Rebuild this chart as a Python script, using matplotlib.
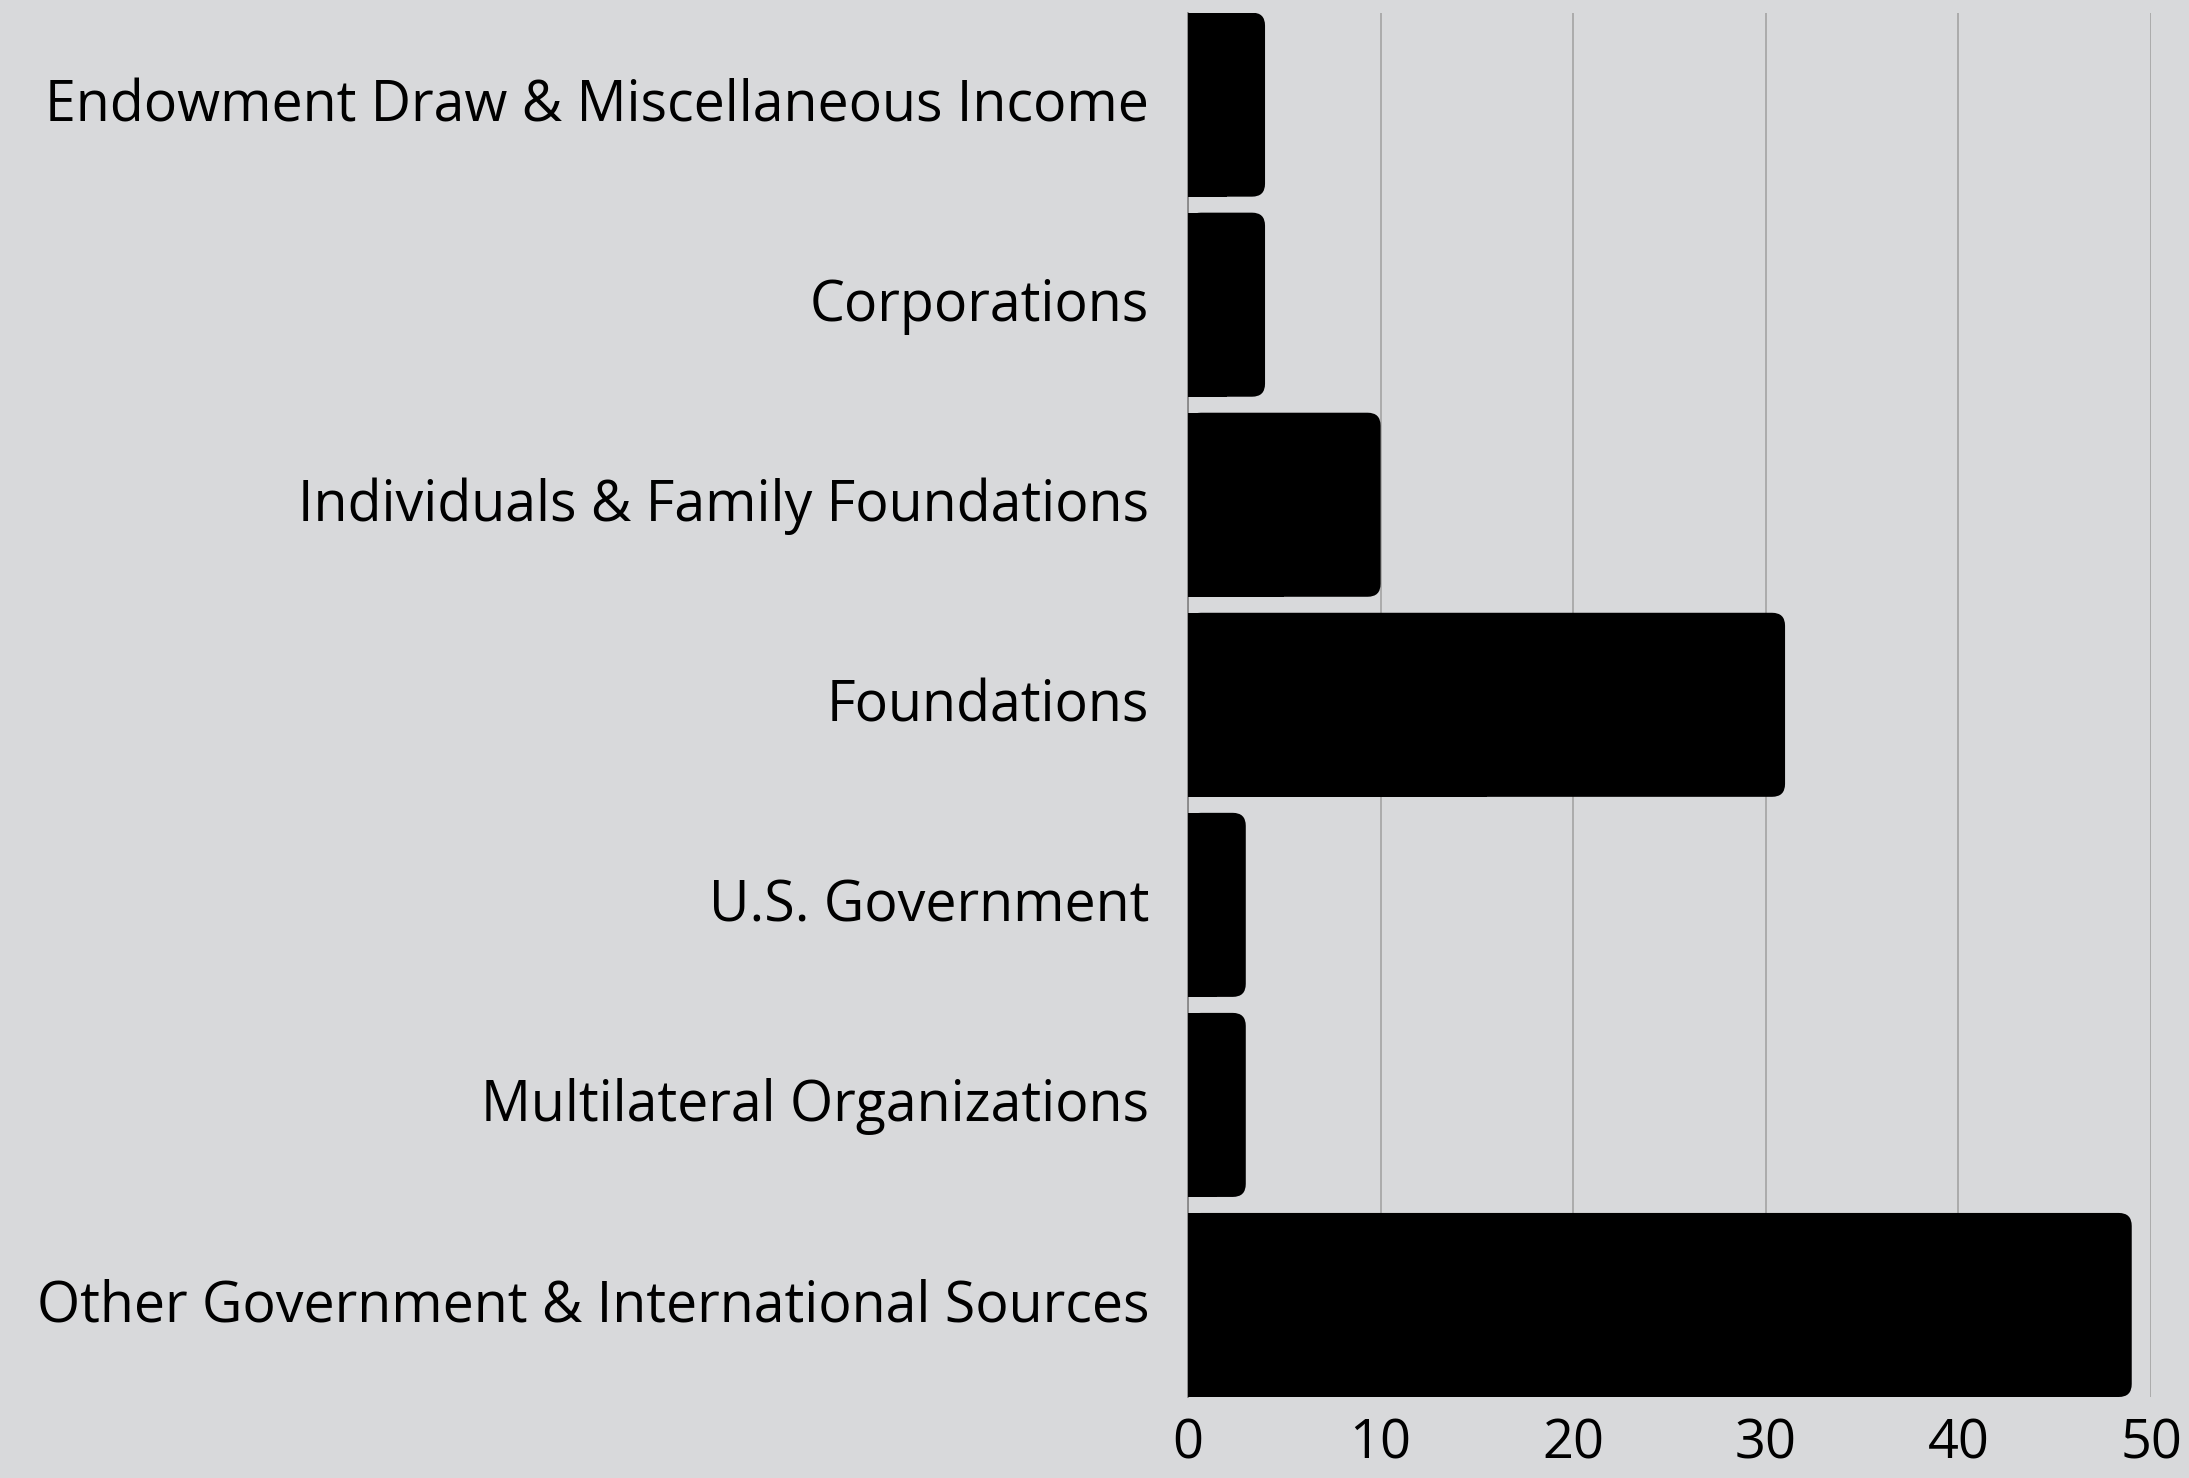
import numpy as np
import matplotlib.pyplot as plt
import matplotlib.transforms as mtransforms
from matplotlib.patches import FancyBboxPatch, Rectangle

categories = ["Endowment Draw & Miscellaneous Income", "Corporations",
              "Individuals & Family Foundations", "Foundations",
              "U.S. Government", "Multilateral Organizations",
              "Other Government & International Sources"]
values = [4, 4, 10, 31, 3, 3, 49]
xticks = [0, 10, 20, 30, 40, 50]

bg = '#d8d9db'
plt.rcParams['font.family'] = ['Open Sans', 'DejaVu Sans']

fig = plt.figure(figsize=(21.89, 14.78), dpi=100, facecolor=bg)
ax = fig.add_axes([1188 / 2189, 1 - 1397 / 1478, (2151 - 1188) / 2189, (1397 - 12.6) / 1478])
ax.set_facecolor(bg)

h = 0.92
ax.set_xlim(0, 50)
ax.set_ylim(len(values) - 1 + h / 2, -h / 2)

# rounding radius in pixels -> data units
fig.canvas.draw()
px_x = abs(ax.transData.transform((1, 0))[0] - ax.transData.transform((0, 0))[0])
px_y = abs(ax.transData.transform((0, 1))[1] - ax.transData.transform((0, 0))[1])
r_px = 13
rx = r_px / px_x
aspect = px_x / px_y

for i, v in enumerate(values):
    y0 = i - h / 2
    box = FancyBboxPatch((0, y0), v, h,
                         boxstyle=f"round,pad=0,rounding_size={rx}",
                         mutation_aspect=aspect, facecolor='black',
                         edgecolor='none', zorder=3)
    ax.add_patch(box)
    # square off the left corners
    ax.add_patch(Rectangle((0, y0), v / 2, h, facecolor='black',
                           edgecolor='none', zorder=3))

ax.set_yticks(range(len(categories)))
ax.set_yticklabels(categories, fontsize=40)
ax.set_xticks(xticks)
ax.set_xticklabels([str(t) for t in xticks], fontsize=39)
ax.tick_params(axis='both', length=0, colors='black')
ax.tick_params(axis='y', pad=28)
ax.tick_params(axis='x', pad=14)

# nudge category labels up a little
offset = mtransforms.ScaledTranslation(0, 5 / 100, fig.dpi_scale_trans)
for lab in ax.get_yticklabels():
    lab.set_transform(lab.get_transform() + offset)

ax.grid(axis='x', color='#a8a8a8', linewidth=1.3, zorder=0)
for s in ['top', 'right', 'bottom']:
    ax.spines[s].set_visible(False)
ax.spines['left'].set_color('#888888')
ax.spines['left'].set_linewidth(1.3)

fig.savefig('out.png', dpi=100, facecolor=bg)
